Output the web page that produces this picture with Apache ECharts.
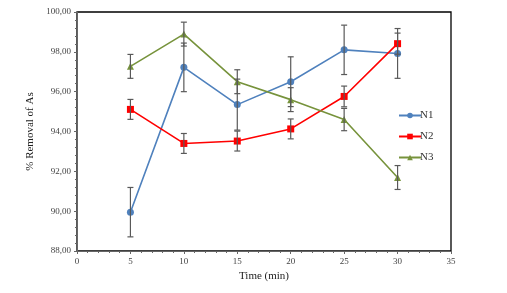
<!DOCTYPE html>
<html><head><meta charset="utf-8">
<script src="https://cdn.jsdelivr.net/npm/echarts@6/dist/echarts.min.js"></script>
<style>html,body{margin:0;padding:0;background:#fff}#c{width:507px;height:293px}</style>
</head><body><div id="c"></div>
<script>
const times = [5, 10, 15, 20, 25, 30];
const n1 = [89.95, 97.22, 95.35, 96.5, 98.1, 97.92];
const n1Err = [1.24, 1.22, 1.28, 1.25, 1.24, 1.25];
const n2 = [95.11, 93.4, 93.52, 94.13, 95.76, 98.41];
const n2Err = [0.5, 0.5, 0.5, 0.5, 0.52, 0.53];
const n3 = [97.27, 98.89, 96.5, 95.6, 94.6, 91.69];
const n3Err = [0.6, 0.6, 0.6, 0.6, 0.56, 0.6];
const seriesNames = ['N1', 'N2', 'N3'];
const colors = ['#4F81BD', '#FF0000', '#77933C'];

const font = 'Liberation Serif';
function errData(vals, errs) {
  return times.map((t, i) => [t, vals[i] - errs[i], vals[i] + errs[i]]);
}
function errSeries(vals, errs) {
  return {
    type: 'custom', z: 5, silent: true,
    data: errData(vals, errs),
    renderItem: function (params, api) {
      const x = api.value(0);
      const lo = api.coord([x, api.value(1)]);
      const hi = api.coord([x, api.value(2)]);
      const w = 3;
      const st = { stroke: '#595959', lineWidth: 1.2 };
      return { type: 'group', children: [
        { type: 'line', shape: { x1: lo[0], y1: lo[1], x2: hi[0], y2: hi[1] }, style: st },
        { type: 'line', shape: { x1: lo[0] - w, y1: lo[1], x2: lo[0] + w, y2: lo[1] }, style: st },
        { type: 'line', shape: { x1: hi[0] - w, y1: hi[1], x2: hi[0] + w, y2: hi[1] }, style: st }
      ]};
    }
  };
}
function lineSeries(name, vals, color, symbol, size) {
  return {
    name: name, type: 'line', z: 3,
    data: times.map((t, i) => [t, vals[i]]),
    symbol: symbol, symbolSize: size,
    itemStyle: { color: color },
    lineStyle: { color: color, width: 1.6 }
  };
}
const chart = echarts.init(document.getElementById('c'));
chart.setOption({
  animation: false,
  backgroundColor: '#fff',
  grid: { left: 77, right: 56, top: 12, bottom: 42, show: true, borderColor: '#000', borderWidth: 1.3, backgroundColor: 'transparent' },
  legend: {
    data: seriesNames, orient: 'vertical', left: 393, top: 105, itemGap: 10,
    itemWidth: 22, itemHeight: 7,
    textStyle: { fontFamily: font, fontSize: 11, color: '#333', padding: [0,0,0,-6] }
  },
  xAxis: {
    type: 'value', min: 0, max: 35, interval: 5,
    name: 'Time (min)', nameLocation: 'middle', nameGap: 18,
    nameTextStyle: { fontFamily: font, fontSize: 11, color: '#222' },
    axisLine: { lineStyle: { color: '#666' } },
    axisTick: { show: true, length: 3, lineStyle: { color: '#666' } },
    minorTick: { show: true, splitNumber: 5, length: 2, lineStyle: { color: '#666' } },
    splitLine: { show: false },
    axisLabel: { fontFamily: font, fontSize: 9, color: '#444', margin: 6 }
  },
  yAxis: {
    type: 'value', min: 88, max: 100, interval: 2,
    name: '% Removal of As', nameLocation: 'middle', nameGap: 36,
    nameTextStyle: { fontFamily: font, fontSize: 11, color: '#222' },
    axisLine: { show: true, lineStyle: { color: '#666' } },
    axisTick: { show: true, length: 3, lineStyle: { color: '#666' } },
    minorTick: { show: true, splitNumber: 5, length: 2, lineStyle: { color: '#666' } },
    splitLine: { show: false },
    axisLabel: { fontFamily: font, fontSize: 9, color: '#444', margin: 6,
      formatter: v => v.toFixed(2).replace('.', ',') }
  },
  series: [
    lineSeries('N1', n1, colors[0], 'circle', 7),
    lineSeries('N2', n2, colors[1], 'rect', 7),
    lineSeries('N3', n3, colors[2], 'triangle', 7),
    errSeries(n1, n1Err),
    errSeries(n2, n2Err),
    errSeries(n3, n3Err)
  ]
});
</script></body></html>
